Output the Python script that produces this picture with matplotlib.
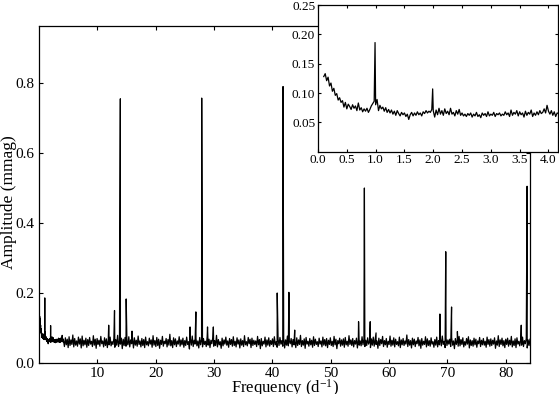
import numpy as np
import matplotlib.pyplot as plt

plt.rcParams['font.family'] = 'serif'
plt.rcParams['font.serif'] = ['Liberation Serif', 'DejaVu Serif']
plt.rcParams['mathtext.default'] = 'regular'

# amplitude spectrum, noise values in micro-mag
# low-frequency part: 0.100 .. 4.150 d^-1
low_f_start, low_f_end = 0.100, 4.150
low_umag = [
    128, 133, 121, 127, 112, 117, 103, 108, 96, 99, 88, 92, 84, 87, 76, 84,
    73, 81, 77, 72, 80, 74, 78, 70, 83, 71, 75, 68, 73, 69, 74, 67, 72, 78,
    82, 86, 80, 89, 70, 79, 73, 76, 69, 75, 67, 72, 66, 71, 64, 69, 62, 70,
    65, 61, 67, 63, 66, 60, 64, 55, 63, 67, 61, 66, 62, 68, 63, 66, 61, 68,
    65, 70, 66, 69, 67, 72, 70, 59, 71, 63, 74, 64, 70, 62, 73, 65, 69, 63,
    74, 64, 67, 61, 70, 64, 72, 62, 66, 61, 64, 60, 65, 62, 66, 59, 64, 61,
    67, 60, 63, 58, 66, 62, 65, 60, 68, 61, 64, 62, 67, 60, 65, 63, 66, 61,
    64, 62, 68, 63, 66, 60, 71, 62, 67, 64, 70, 61, 68, 63, 66, 59, 69, 62,
    67, 64, 71, 60, 66, 62, 68, 63, 70, 65, 67, 73, 66, 79, 69, 64, 70, 62,
    68, 60, 66,
]

# rest of the spectrum: 4.2 .. 84.2 d^-1
high_f_start, high_f_end = 4.2, 84.2
high_umag = [
    64, 47, 72, 52, 68, 44, 75, 50, 66, 53, 80, 46, 70, 51, 63, 48, 74, 54, 69, 43, 77, 49, 65, 52, 71,
    45, 67, 50, 73, 54, 62, 47, 78, 51, 68, 42, 70, 53, 65, 48, 76, 55, 63, 46, 72, 50, 69, 44, 66, 52,
    74, 49, 61, 53, 70, 45, 67, 51, 79, 47, 64, 54, 71, 41, 68, 50, 73, 48, 62, 52, 75, 46, 66, 55, 69,
    43, 72, 51, 65, 48, 77, 53, 63, 46, 70, 50, 67, 44, 74, 52, 61, 49, 71, 54, 66, 45, 78, 51, 64, 47,
    73, 50, 68, 42, 65, 53, 76, 48, 62, 55, 70, 46, 67, 51, 82, 49, 64, 44, 72, 52, 69, 47, 63, 54, 75,
    48, 66, 52, 71, 45, 64, 50, 74, 53, 61, 40, 69, 51, 77, 47, 65, 54, 70, 49, 63, 43, 73, 52, 67, 46,
    70, 53, 62, 47, 76, 51, 68, 44, 65, 55, 72, 48, 64, 50, 79, 46, 67, 52, 61, 42, 71, 49, 66, 54, 74,
    51, 63, 45, 70, 53, 67, 48, 75, 50, 62, 46, 72, 54, 66, 43, 69, 51, 64, 47, 78, 52, 61, 49, 73, 55,
    68, 44, 71, 50, 65, 53, 63, 47, 76, 52, 67, 41, 70, 49, 62, 54, 74, 46, 66, 51, 72, 48, 64, 53, 69,
    47, 75, 52, 61, 45, 68, 50, 73, 54, 64, 48, 71, 43, 66, 51, 77, 49, 63, 55, 70, 46, 67, 52, 62, 44,
    72, 50, 66, 53, 79, 47, 64, 51, 69, 42, 73, 54, 62, 48, 70, 52, 65, 45, 75, 50, 68, 53, 61, 47, 71,
    54, 63, 46, 74, 51, 67, 49, 70, 44, 65, 53, 72, 50, 62, 47, 76, 52, 68, 41, 64, 55, 71, 48, 66, 51,
    69, 45, 73, 52, 62, 48, 78, 53, 66, 50, 70, 46, 64, 54, 71, 43, 67, 51, 63, 49, 75, 52, 68, 47, 65,
    50, 72, 54, 61, 44, 69, 51, 74, 48, 66, 53, 63, 42, 71, 50, 67, 55, 76, 47, 64, 52, 70, 45, 62, 53,
    77, 48, 65, 51, 72, 46, 68, 53, 61, 49, 74, 44, 66, 52, 70, 50, 63, 54, 80, 47, 67, 51, 64, 43, 71,
    52, 68, 47, 63, 55, 73, 49, 66, 42, 70, 51, 62, 53, 75, 46, 69, 50, 64, 48, 72, 54, 61, 45, 67, 51,
    74, 46, 64, 52, 69, 49, 77, 53, 62, 44, 71, 50, 66, 54, 68, 47, 73, 51, 63, 41, 70, 53, 65, 48, 76,
    49, 67, 53, 72, 46, 61, 51, 70, 54, 75, 43, 66, 50, 64, 48, 71, 52, 68, 45, 63, 55, 73, 47, 65, 52,
    70, 51, 62, 45, 74, 53, 67, 48, 69, 50, 65, 54, 72, 42, 63, 51, 78, 47, 66, 53, 71, 49, 64, 44, 68,
    53, 71, 48, 65, 52, 76, 46, 63, 50, 69, 44, 72, 54, 62, 49, 67, 51, 74, 47, 64, 55, 70, 43, 66, 50,
    68,
]

# peaks (d^-1, mmag)
peak_freq = [0.99, 1.99, 11.95, 12.95, 13.95, 14.95, 15.95,
             25.9, 26.9, 27.9, 28.9, 29.9,
             40.85, 41.85, 42.85, 43.85,
             54.8, 55.8, 56.8, 57.8,
             68.75, 69.75, 70.75, 71.75,
             82.7, 83.7]
peak_amp = [0.186, 0.107, 0.108, 0.150, 0.755, 0.183, 0.091,
            0.103, 0.146, 0.757, 0.103, 0.103,
            0.200, 0.790, 0.202, 0.094,
            0.118, 0.500, 0.118, 0.086,
            0.140, 0.318, 0.160, 0.090,
            0.108, 0.505]

f_low = np.linspace(low_f_start, low_f_end, len(low_umag))
f_high = np.linspace(high_f_start, high_f_end, len(high_umag))
freq = np.concatenate([f_low, f_high, peak_freq])
amp = np.concatenate([np.array(low_umag) / 1000, np.array(high_umag) / 1000, peak_amp])
order = np.argsort(freq)
freq, amp = freq[order], amp[order]

W, H = 559, 394
fig = plt.figure(figsize=(W / 100, H / 100), dpi=100)

ax = fig.add_axes([39 / W, 1 - 363 / H, (530 - 39) / W, (363 - 26) / H])
ax.plot(freq, amp, color='k', lw=0.9)
ax.set_xlim(0, 84.2)
ax.set_ylim(0, 0.963)
ax.set_xticks([10, 20, 30, 40, 50, 60, 70, 80])
ax.set_yticks([0.0, 0.2, 0.4, 0.6, 0.8])
ax.yaxis.set_major_formatter('{x:.1f}')
ax.tick_params(direction='in', top=True, right=True, length=3, width=0.8,
               labelsize=11, pad=3)
for s in ax.spines.values():
    s.set_linewidth(0.9)
ax.set_xlabel('Frequency (d$^{-1}$)', fontsize=12, labelpad=-2)
ax.set_ylabel('Amplitude (mmag)', fontsize=12.5)
ax.yaxis.set_label_coords(-0.044, 0.478)

axin = fig.add_axes([318 / W, 1 - 151.7 / H, (557.7 - 318) / W, (151.7 - 5) / H])
axin.plot(freq, amp, color='k', lw=0.9)
axin.set_xlim(0, 4.16)
axin.set_ylim(0, 0.25)
axin.set_xticks([0.0, 0.5, 1.0, 1.5, 2.0, 2.5, 3.0, 3.5, 4.0])
axin.set_yticks([0.05, 0.10, 0.15, 0.20, 0.25])
axin.xaxis.set_major_formatter('{x:.1f}')
axin.yaxis.set_major_formatter('{x:.2f}')
axin.tick_params(direction='in', top=True, right=True, length=2.5, width=0.8,
                 labelsize=9.5, pad=2)
for s in axin.spines.values():
    s.set_linewidth(0.9)

fig.savefig('out.png', dpi=100)
